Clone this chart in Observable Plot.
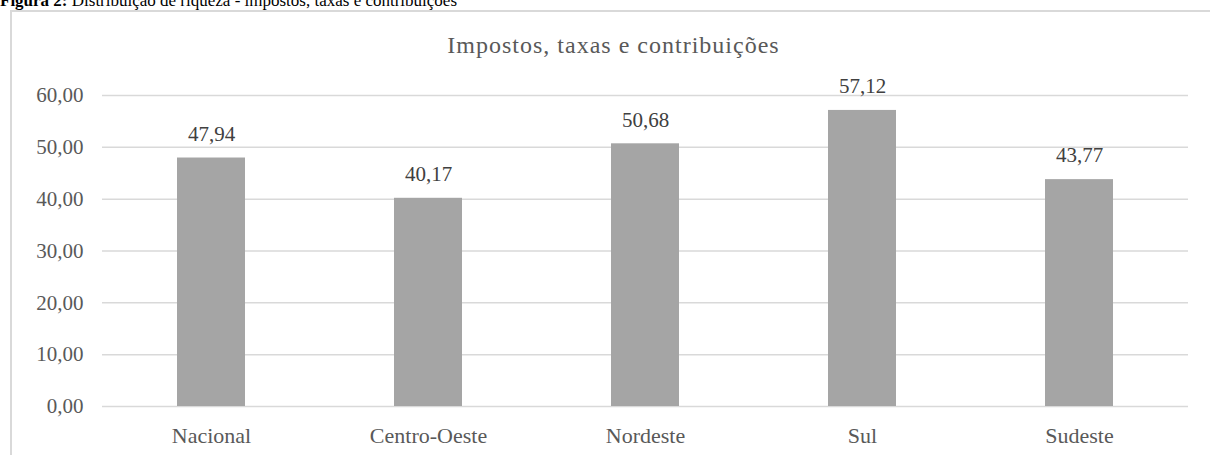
<!DOCTYPE html>
<html>
<head>
<meta charset="utf-8">
<script src="https://cdn.jsdelivr.net/npm/d3@7"></script>
<script src="https://cdn.jsdelivr.net/npm/@observablehq/plot@0.6"></script>
<style>
  html, body { margin: 0; padding: 0; background: #fff; }
  #wrap { position: relative; width: 1210px; height: 455px; overflow: hidden; font-family: 'Liberation Serif', 'Times New Roman', Times, serif; }
  #heading { position: absolute; left: 0; top: -8px; font-size: 17px; color: #000; white-space: nowrap; line-height: 1; }
  #box { position: absolute; left: 10px; top: 10px; width: 1300px; height: 600px; border: 2px solid #d9d9d9; box-sizing: border-box; }
  #title { position: absolute; left: 0; width: 1227px; top: 31px; text-align: center; font-size: 24px; letter-spacing: 1px; color: #595959; line-height: 1.2; }
  #chart { position: absolute; left: 0; top: 0; }
</style>
</head>
<body>
<div id="wrap">
  <div id="box"></div>
  <div id="heading"><b>Figura 2:</b> Distribuição de riqueza - impostos, taxas e contribuições</div>
  <div id="title">Impostos, taxas e contribuições</div>
  <div id="chart"></div>
</div>
<script>
const categories = ["Nacional", "Centro-Oeste", "Nordeste", "Sul", "Sudeste"];
const values = [47.94, 40.17, 50.68, 57.12, 43.77];
const yTicks = [0, 10, 20, 30, 40, 50, 60];

const data = categories.map((c, i) => ({category: c, value: values[i]}));
const fmt = v => v.toFixed(2).replace(".", ",");
const serif = "'Liberation Serif', 'Times New Roman', Times, serif";

const chart = Plot.plot({
  width: 1210,
  height: 455,
  marginLeft: 102,
  marginRight: 22,
  marginTop: 95,
  marginBottom: 49,
  style: {fontFamily: serif, background: "transparent", overflow: "visible"},
  x: {domain: categories, paddingInner: 0.687, paddingOuter: 0.3435, label: null},
  y: {domain: [0, 60], label: null},
  marks: [
    Plot.gridY(yTicks, {stroke: "#d9d9d9", strokeOpacity: 1, strokeWidth: 1.5}),
    Plot.barY(data, {x: "category", y: "value", fill: "#a5a5a5"}),
    Plot.text(data, {x: "category", y: "value", text: d => fmt(d.value), dy: -24, fontSize: 21, fill: "#404040", fontFamily: serif, style: {letterSpacing: "0.8px"}}),
    Plot.axisY(yTicks, {tickSize: 0, tickPadding: 19, tickFormat: fmt, fontSize: 21, color: "#595959", label: null, fontFamily: serif, style: {letterSpacing: "1.2px"}}),
    Plot.axisX({tickSize: 0, tickPadding: 21, fontSize: 22, color: "#595959", label: null, fontFamily: serif, style: {letterSpacing: "0.3px"}})
  ]
});
document.getElementById("chart").appendChild(chart);
</script>
</body>
</html>
